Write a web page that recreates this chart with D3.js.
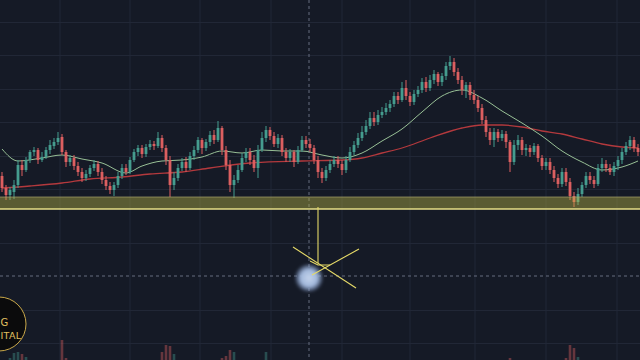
<!DOCTYPE html>
<html><head><meta charset="utf-8">
<script src="https://cdn.jsdelivr.net/npm/d3@7/dist/d3.min.js"></script>
<style>html,body{margin:0;padding:0;background:#151a26;overflow:hidden}</style>
</head><body><svg id="c" width="640" height="360"></svg>
<script>
// ---- data (price units are arbitrary index points) ----
const open = [54,42,35,38,45,65,60,70,78,80,70,73,80,84,88,93,78,68,72,64,58,52,56,62,66,58,50,44,40,45,54,62,58,70,78,82,76,83,86,84,92,82,70,45,52,62,68,62,74,80,90,82,88,95,90,102,80,65,45,50,60,72,78,70,62,80,92,100,94,86,92,78,72,78,68,80,90,86,82,70,58,52,60,66,70,66,60,70,78,85,92,98,104,112,108,115,118,122,126,134,130,142,134,128,136,140,148,142,150,156,148,154,164,168,158,150,140,145,135,130,122,110,98,90,98,92,96,88,68,85,90,80,82,78,84,72,64,68,60,52,46,58,48,34,28,36,45,54,50,46,62,66,62,58,64,70,78,84,90,82];
const close = [42,35,40,45,65,60,70,78,80,70,73,80,85,88,92,78,68,72,64,58,52,56,62,66,58,50,44,40,45,54,62,58,70,78,82,76,83,86,84,92,82,70,45,52,62,68,62,74,80,90,82,88,95,90,102,80,65,45,50,60,72,78,70,62,80,92,100,94,86,92,78,72,78,68,80,90,86,82,70,58,52,60,66,70,66,60,70,78,85,92,98,104,112,108,115,118,122,126,134,130,142,134,128,136,140,148,142,150,156,148,154,164,168,158,150,140,145,135,130,122,110,98,90,98,92,96,88,68,85,90,80,82,78,84,72,64,68,60,52,46,58,48,34,28,36,45,54,50,46,62,66,62,58,64,70,78,84,90,82,78];
const high = [58,45,43,50,70,70,73,80,83,82,78,83,90,92,98,96,80,75,75,68,62,60,65,70,69,62,54,48,48,58,66,66,73,81,85,85,86,90,89,98,95,85,74,58,66,72,73,78,84,93,92,91,99,100,109,104,84,70,55,65,77,82,82,75,85,98,104,103,98,96,95,82,81,80,84,94,94,91,85,74,62,64,70,74,74,70,74,83,89,97,104,110,118,118,120,123,127,130,138,138,148,150,138,140,144,152,153,155,160,158,157,168,174,172,162,154,148,148,140,134,126,114,102,102,101,100,99,90,90,95,93,86,85,87,86,75,72,72,64,56,62,62,52,38,42,48,58,58,54,66,72,70,66,68,74,82,88,94,93,86];
const low = [38,30,30,31,42,54,58,67,74,66,68,71,76,81,85,75,63,64,60,54,48,49,53,59,54,46,40,36,34,42,51,55,56,68,74,72,73,80,80,82,78,65,33,40,49,59,58,60,70,77,76,79,84,86,88,75,60,38,32,47,58,68,65,58,52,78,88,90,83,82,74,68,68,63,66,78,82,78,66,52,47,49,57,63,62,55,57,68,75,82,89,95,101,104,105,112,115,118,123,126,128,130,124,125,133,137,138,139,146,144,144,150,160,154,146,135,132,130,126,118,106,93,85,83,88,89,82,58,65,80,75,74,73,75,68,60,60,56,48,42,43,44,30,23,25,33,42,46,42,44,58,58,55,54,60,66,75,80,78,74];
const volume = [9,12,14,19,20,18,15,10,8,7,8,7,9,8,10,32,14,9,8,7,8,9,7,8,6,9,10,11,12,9,8,7,9,8,7,6,8,7,9,12,20,27,26,18,12,9,8,7,9,8,7,8,9,8,10,14,16,22,20,12,9,8,7,9,8,10,20,9,8,7,8,7,9,8,7,8,9,10,11,12,10,9,8,7,8,9,8,10,9,8,9,10,8,9,11,8,9,10,8,9,10,9,8,9,10,11,9,8,9,10,9,10,12,11,9,10,9,8,9,10,11,12,10,9,8,9,10,14,11,9,8,9,8,7,9,10,9,8,10,11,12,14,27,24,15,10,9,8,9,10,9,8,9,10,9,8,9,10,9,8];
// moving averages, sampled at candle indices
const maFastIdx = [0,4,10,15,20,25,31,35,40,45,50,55,60,65,70,75,80,85,90,95,100,105,110,115,120,125,130,135,140,145,150,155,159];
const maFastVal = [81,69,72,75,71,67,57,64,69,70,73,79,77,80,79,79,75,72,77,89,101,118,134,140,132,119,107,94,79,68,60,63,69];
const maSlowIdx = [0,7,15,22,30,37,45,52,62,75,85,90,95,100,107,115,120,125,130,135,140,145,150,155,159];
const maSlowVal = [42,44,47,51,53,56,58,62,67,69,70,72,77,82,92,102,105,105,103,99,96,91,86,83,82];
// grid / annotations (data units: candle index, price)
const gridIdx = [14.5,32,49.5,67.25,85,102,118.25,136,153.75];
const gridPrice = [208,175,141,108,74,41,-13,-80,-113];
const zone = [21,33];
const crossIdx = 76.75, crossPrice = -46;

const svg = d3.select("#c");
const W = 640, H = 360;
const x = d3.scaleLinear().domain([0,159]).range([2,638]);
const y = d3.scaleLinear().domain([20,180]).range([210,50]);
const yv = d3.scaleLinear().domain([0,40]).range([372,332]);
const UP = "#449c8e", DOWN = "#dc5f61";
const idx = d3.range(close.length);

const defs = svg.append("defs");
defs.append("filter").attr("id","soft").append("feGaussianBlur").attr("stdDeviation",0.35);
defs.append("filter").attr("id","blur2").attr("x","-50%").attr("y","-50%").attr("width","200%").attr("height","200%")
  .append("feGaussianBlur").attr("stdDeviation",1.6);

svg.append("rect").attr("width",W).attr("height",H).attr("fill","#151a26");

// grid
const g = svg.append("g").attr("stroke","#212736").attr("stroke-width",1);
g.selectAll(".v").data(gridIdx).join("line").attr("x1",d=>x(d)).attr("x2",d=>x(d)).attr("y1",0).attr("y2",H);
g.selectAll(".h").data(gridPrice).join("line").attr("x1",0).attr("x2",W).attr("y1",d=>y(d)+0.5).attr("y2",d=>y(d)+0.5);

// volume
svg.append("g").attr("filter","url(#soft)").selectAll("rect").data(idx).join("rect")
  .attr("x",i=>x(i)-1.3).attr("width",2.6)
  .attr("y",i=>yv(volume[i])).attr("height",i=>yv(0)-yv(volume[i]))
  .attr("fill",i=>close[i]>=open[i]?UP:DOWN).attr("opacity",0.4);

// crosshair
const ch = svg.append("g").attr("stroke","#666c7e").attr("stroke-width",1).attr("stroke-dasharray","3,3");
ch.append("line").attr("x1",x(crossIdx)).attr("x2",x(crossIdx)).attr("y1",0).attr("y2",H);
ch.append("line").attr("x1",0).attr("x2",W).attr("y1",y(crossPrice)).attr("y2",y(crossPrice));

// moving averages
const line = d3.line().x(d=>x(d[0])).y(d=>y(d[1])).curve(d3.curveMonotoneX);
svg.append("path").datum(d3.zip(maSlowIdx,maSlowVal)).attr("d",line)
  .attr("fill","none").attr("stroke","#b3393d").attr("stroke-width",1.3);
svg.append("path").datum(d3.zip(maFastIdx,maFastVal)).attr("d",line)
  .attr("fill","none").attr("stroke","#98c096").attr("stroke-width",1);

// candles
const c = svg.append("g").attr("filter","url(#soft)");
c.selectAll("line").data(idx).join("line")
  .attr("x1",i=>x(i)).attr("x2",i=>x(i)).attr("y1",i=>y(high[i])).attr("y2",i=>y(low[i]))
  .attr("stroke",i=>close[i]>=open[i]?UP:DOWN).attr("stroke-width",1);
c.selectAll("rect").data(idx).join("rect")
  .attr("x",i=>x(i)-1.4).attr("width",2.8)
  .attr("y",i=>y(Math.max(open[i],close[i])))
  .attr("height",i=>Math.max(1,Math.abs(y(open[i])-y(close[i]))))
  .attr("fill",i=>close[i]>=open[i]?UP:DOWN);

// support zone
svg.append("rect").attr("x",0).attr("width",W)
  .attr("y",y(zone[1])).attr("height",y(zone[0])-y(zone[1]))
  .attr("fill","rgb(185,180,68)").attr("fill-opacity",0.42);
svg.append("line").attr("x1",0).attr("x2",W).attr("y1",y(zone[1])).attr("y2",y(zone[1]))
  .attr("stroke","#aaa56c").attr("stroke-width",0.7);
svg.append("line").attr("x1",0).attr("x2",W).attr("y1",y(zone[0])).attr("y2",y(zone[0]))
  .attr("stroke","#e6de88").attr("stroke-width",1.5);

// cursor glow
const rg = defs.append("radialGradient").attr("id","glow");
rg.append("stop").attr("offset","0%").attr("stop-color","#c4d4ec");
rg.append("stop").attr("offset","60%").attr("stop-color","#a0b6da");
rg.append("stop").attr("offset","100%").attr("stop-color","#7f98c6").attr("stop-opacity",0.2);
svg.append("circle").attr("cx",x(crossIdx)).attr("cy",y(crossPrice)+2).attr("r",14)
  .attr("fill","url(#glow)").attr("filter","url(#blur2)");

// yellow drawing
const pen = [
  [[79,23],[79,-33]],
  [[72.75,-17],[88.5,-58]],
  [[89.25,-19],[77.5,-45]],
  [[77,-31],[79,-35],[82,-35]]
];
const pl = d3.line().x(d=>x(d[0])).y(d=>y(d[1]));
svg.append("g").selectAll("path").data(pen).join("path").attr("d",pl)
  .attr("fill","none").attr("stroke","#e6da68").attr("stroke-width",1.1);

// logo
svg.append("circle").attr("cx",-1).attr("cy",324).attr("r",27)
  .attr("fill","#0b0b0c").attr("stroke","#c9a84a").attr("stroke-width",1);
svg.append("text").attr("x",0.5).attr("y",326)
  .attr("fill","#e0c060").attr("font-family","DejaVu Sans").attr("font-size",10).text("G");
svg.append("text").attr("x",0.5).attr("y",339)
  .attr("fill","#e0c060").attr("font-family","DejaVu Sans").attr("font-size",9.5).attr("letter-spacing",0.3).text("ITAL");
</script></body></html>
